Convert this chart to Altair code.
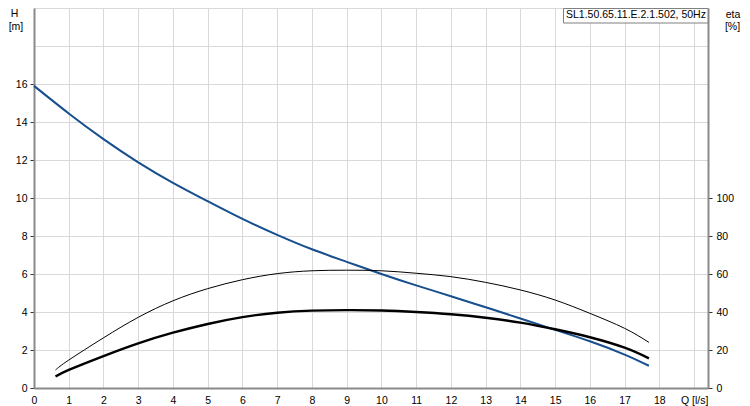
import altair as alt
import pandas as pd

# ---- data ----
q_h = [0, 1, 2, 3, 4, 5, 6, 7, 8, 9, 10, 11, 12, 13, 14, 15, 16, 17, 17.7]
head_m = [15.9, 14.45, 13.1, 11.88, 10.8, 9.83, 8.9, 8.06, 7.3, 6.64, 6.0, 5.4,
          4.83, 4.25, 3.66, 3.06, 2.46, 1.76, 1.17]

q_eta = [0.62, 1, 2, 3, 4, 5, 6, 7, 8, 9, 10, 11, 12, 13, 14, 15, 16, 17, 17.7]
eta_thin = [9.5, 14.7, 26.4, 37.2, 45.9, 52.3, 57.0, 60.2, 61.7, 62.0, 61.7, 60.4,
            58.6, 55.6, 51.6, 46.3, 39.3, 31.4, 24.0]
eta_thick = [6.0, 9.5, 16.8, 23.5, 29.1, 33.7, 37.3, 39.6, 40.7, 41.0, 40.8, 40.0,
             38.8, 37.0, 34.4, 30.9, 26.7, 21.2, 15.6]

x_ticks = list(range(0, 20))
h_ticks = list(range(0, 21, 2))
eta_ticks = [0, 20, 40, 60, 80, 100]
title_text = "SL1.50.65.11.E.2.1.502, 50Hz"

FONT = "Liberation Sans"
AXIS_GRAY = "#8a8a8a"
GRID = "#d9d9d9"
BLUE = "#164e8e"

df_h = pd.DataFrame({"Q": q_h, "H": head_m})
df_thin = pd.DataFrame({"Q": q_eta, "eta": eta_thin})
df_thick = pd.DataFrame({"Q": q_eta, "eta": eta_thick})

x_enc = alt.X(
    "Q:Q",
    scale=alt.Scale(domain=[0, 19.4], nice=False, zero=False),
    axis=alt.Axis(
        values=x_ticks,
        labelExpr="datum.value == 19 ? 'Q [l/s]' : datum.label",
        grid=True, gridColor=GRID, gridWidth=1,
        domainColor=AXIS_GRAY, domainWidth=2,
        ticks=False, labelPadding=7,
        labelFont=FONT, labelFontSize=10.5, labelColor="#000",
        labelFlush=False, title=None,
    ),
)

h_line = alt.Chart(df_h).mark_line(color=BLUE, strokeWidth=2, interpolate="natural").encode(
    x=x_enc,
    y=alt.Y(
        "H:Q",
        scale=alt.Scale(domain=[0, 20], nice=False),
        axis=alt.Axis(
            values=h_ticks,
            labelExpr="datum.value > 16 ? '' : datum.label",
            grid=True, gridColor=GRID, gridWidth=1,
            domainColor=AXIS_GRAY, domainWidth=2,
            tickSize=4, tickColor={"condition": {"test": "datum.value > 16", "value": "transparent"}, "value": "#333"},
            labelPadding=3, labelFont=FONT, labelFontSize=10.5, labelColor="#000",
            labelFlush=False, title=None,
        ),
    ),
)

eta_y = alt.Y(
    "eta:Q",
    scale=alt.Scale(domain=[0, 200], nice=False),
    axis=alt.Axis(
        orient="right", values=eta_ticks, grid=False,
        domainColor=AXIS_GRAY, domainWidth=2,
        tickSize=4, tickColor="#333", labelPadding=4,
        labelFont=FONT, labelFontSize=10.5, labelColor="#000",
        labelFlush=False, title=None,
    ),
)

thin_line = alt.Chart(df_thin).mark_line(color="#000", strokeWidth=1, interpolate="natural").encode(
    x=x_enc, y=eta_y)
thick_line = alt.Chart(df_thick).mark_line(color="#000", strokeWidth=2.4, interpolate="natural").encode(
    x=x_enc, y=eta_y)
eta_layer = alt.layer(thin_line, thick_line)

one = pd.DataFrame({"k": [0]})

box = alt.Chart(one).mark_rect(fill="white", stroke="#808080", strokeWidth=1).encode(
    x=alt.value(529.5), x2=alt.value(674), y=alt.value(0.5), y2=alt.value(15))
box_text = alt.Chart(one).mark_text(text=title_text, font=FONT, fontSize=10.5, align="left",
                                    baseline="alphabetic", color="#000").encode(
    x=alt.value(532), y=alt.value(9.5))


def label(txt, x, y):
    return alt.Chart(one).mark_text(text=txt, font=FONT, fontSize=10.5, align="center",
                                    baseline="alphabetic", color="#000").encode(
        x=alt.value(x), y=alt.value(y))


chart = alt.layer(
    h_line, eta_layer, box, box_text,
    label("H", -19.5, 9), label("[m]", -18, 21.5),
    label("eta", 699, 9.5), label("[%]", 698.5, 21.5),
).resolve_scale(y="independent").properties(
    width=674, height=380,
    padding={"left": 26, "top": 0, "right": 34, "bottom": 18},
    autosize=alt.AutoSizeParams(type="none"),
).configure_view(stroke=AXIS_GRAY, strokeWidth=1.5).configure(background="white")

chart.save("out.html", embed_options={"renderer": "svg", "actions": False})
